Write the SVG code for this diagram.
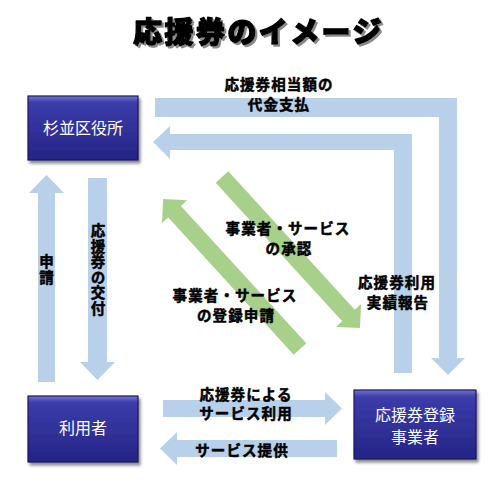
<svg xmlns="http://www.w3.org/2000/svg" width="498" height="483" viewBox="0 0 498 483">
<defs>
<linearGradient id="boxg" x1="0" y1="0" x2="0" y2="1">
<stop offset="0" stop-color="#7474D4"/>
<stop offset="0.1" stop-color="#3C3CAA"/>
<stop offset="0.55" stop-color="#303098"/>
<stop offset="1" stop-color="#252584"/>
</linearGradient>
<filter id="sh" x="-10%" y="-10%" width="125%" height="130%">
<feDropShadow dx="2" dy="3" stdDeviation="1.5" flood-color="#000" flood-opacity="0.45"/>
</filter>
<filter id="tsh" x="-5%" y="-20%" width="110%" height="150%">
<feDropShadow dx="2" dy="2" stdDeviation="0.4" flood-color="#8A8A8A" flood-opacity="1"/>
</filter>
</defs>
<style>
.box{fill:url(#boxg);stroke:#1A1A5C;stroke-width:1.2;filter:url(#sh)}
.bt{font-family:"Noto Sans CJK JP","Noto Sans CJK SC",sans-serif;font-size:16px;fill:#fff;text-anchor:middle}
.lb{font-family:"Noto Sans CJK JP","Noto Sans CJK SC",sans-serif;font-size:14.5px;font-weight:bold;fill:#000;stroke:#000;stroke-width:0.5;letter-spacing:1.1px;text-anchor:middle}
.vt{writing-mode:vertical-rl}
.blue{fill:#B8D0EA}
.green{fill:#A7D08A}
.title{font-family:"Noto Sans CJK JP","Noto Sans CJK SC",sans-serif;font-size:29px;font-weight:900;letter-spacing:2.4px;text-anchor:middle;stroke-width:1.4;stroke-linejoin:round;fill:#000;stroke:#000;filter:url(#tsh)}
</style>
<rect width="498" height="483" fill="#fff"/>
<g id="title">
<text class="title" x="258.5" y="43">応援券のイメージ</text>
</g>
<g id="connectors">
<path class="blue" d="M155,98 H457 V358 H465 L448,375 L431,358 H439 V117 H155 Z"/>
<path class="blue" d="M412,373 V134 H170 V126 L153,142 L170,159 V150 H394 V373 Z"/>
<path class="blue" d="M38,382 V193 H29 L46.5,175 L64,193 H55 V382 Z"/>
<path class="blue" d="M88,178 H107 V362 H115 L97.5,380 L80,362 H88 Z"/>
<path class="blue" d="M163,400 H325 V392 L342,408.5 L325,425 V417 H163 Z"/>
<path class="blue" d="M160,448.5 L177,432 V440 H337 V457 H177 V465 Z"/>
<polygon class="green" transform="translate(222,177) rotate(47.6)" points="0,-8.5 187.6,-8.5 187.6,-17 204.6,0 187.6,17 187.6,8.5 0,8.5"/>
<polygon class="green" transform="translate(300,349) rotate(227.6)" points="0,-8.5 186,-8.5 186,-17 203,0 186,17 186,8.5 0,8.5"/>
<text class="lb"><tspan x="279" y="90">応援券相当額の</tspan><tspan x="279" y="110">代金支払</tspan></text>
<text class="lb"><tspan x="288" y="233.5">事業者・サービス</tspan><tspan x="289" y="253.5">の承認</tspan></text>
<text class="lb"><tspan x="235" y="300.5">事業者・サービス</tspan><tspan x="236" y="320.5">の登録申請</tspan></text>
<text class="lb"><tspan x="397" y="288">応援券利用</tspan><tspan x="398" y="308">実績報告</tspan></text>
<text class="lb"><tspan x="246" y="400">応援券による</tspan><tspan x="246" y="419">サービス利用</tspan></text>
<text class="lb" x="242" y="455.5">サービス提供</text>
<text class="lb vt" x="46.5" y="270">申請</text>
<text class="lb vt" x="98" y="270">応援券の交付</text>
</g>
<g id="node-suginami">
<rect class="box" x="28" y="96" width="110" height="64"/>
<text class="bt" x="83" y="134">杉並区役所</text>
</g>
<g id="node-user">
<rect class="box" x="28" y="396" width="110" height="66"/>
<text class="bt" x="83" y="434">利用者</text>
</g>
<g id="node-business">
<rect class="box" x="354" y="390" width="122" height="69"/>
<text class="bt"><tspan x="415" y="421">応援券登録</tspan><tspan x="415" y="443">事業者</tspan></text>
</g>
</svg>
